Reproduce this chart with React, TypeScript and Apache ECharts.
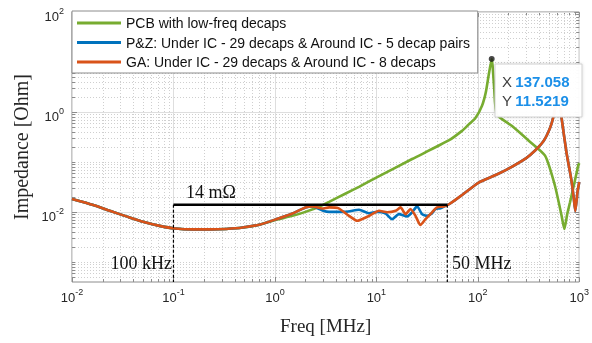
import React, { useEffect, useRef } from "react";
import * as echarts from "echarts";

// ---------- data ----------
// shared low-frequency part (all three curves overlap)
const lowFreq = [0.01, 0.0162, 0.0236, 0.0344, 0.0501, 0.0731, 0.104, 0.156, 0.227, 0.331, 0.482, 0.703];
const lowZ = [0.0182, 0.0138, 0.0106, 0.0082, 0.0064, 0.0053, 0.0047, 0.0045, 0.0045, 0.0046, 0.0049, 0.0056];

// PCB with low-freq decaps (green)
const pcbFreq = [1.03, 1.49, 2.0, 2.73, 3.42, 4.99, 6.75, 10.2, 22.5, 51.6, 69.8, 81, 94.4, 110, 120, 128, 137.058, 145, 154, 216, 316, 460, 575, 670, 713, 760, 811, 900, 977, 1000];
const pcbZ = [0.007, 0.0084, 0.0101, 0.0128, 0.016, 0.0235, 0.032, 0.05, 0.115, 0.27, 0.42, 0.56, 0.75, 1.34, 2.5, 5.5, 11.5219, 3.0, 0.9, 0.53, 0.27, 0.134, 0.034, 0.0084, 0.0046, 0.009, 0.0157, 0.04, 0.085, 0.095];

// P&Z (blue), 1 - 52.5 MHz
const pzFreq = [1.03, 1.49, 2.0, 2.35, 2.6, 2.94, 3.42, 4.99, 6.75, 8.45, 10.2, 12.3, 14.3, 16.7, 20.1, 22.5, 25.2, 28.2, 31.6, 35.4, 38.2, 42.9, 48.0, 52.5];
const pzZ = [0.0072, 0.0094, 0.0124, 0.013, 0.012, 0.0108, 0.0101, 0.0101, 0.0111, 0.0095, 0.0101, 0.0094, 0.0072, 0.0091, 0.0082, 0.0099, 0.013, 0.0091, 0.0084, 0.0095, 0.0115, 0.0119, 0.0134, 0.0145];

// GA (orange), 1 - 52.5 MHz
const gaFreq = [1.03, 1.49, 2.0, 2.35, 2.94, 3.42, 4.2, 5.38, 6.49, 7.85, 9.12, 10.6, 12.8, 15.5, 17.3, 19.4, 21.7, 24.3, 27.2, 30.5, 35.4, 39.6, 46.1, 52.5];
const gaZ = [0.0072, 0.0094, 0.0124, 0.013, 0.0118, 0.0124, 0.012, 0.0084, 0.0067, 0.0078, 0.0091, 0.0106, 0.0099, 0.0106, 0.0124, 0.0091, 0.0115, 0.0084, 0.0055, 0.0072, 0.0099, 0.0124, 0.013, 0.0145];

// shared high-frequency part of P&Z and GA
const hfFreq = [70, 102, 150, 201, 300, 367, 443, 496, 535, 569, 600, 630, 670, 750, 834, 880, 914, 960, 1000];
const hfZ = [0.022, 0.039, 0.055, 0.074, 0.12, 0.17, 0.26, 0.4, 0.6, 1.0, 1.8, 2.4, 0.75, 0.15, 0.045, 0.02, 0.0105, 0.025, 0.04];

// annotation
const targetZ = 0.014; // 14 mOhm
const bandStart = 0.1; // 100 kHz
const bandEnd = 50; // 50 MHz
const tipFreq = 137.058;
const tipZ = 11.5219;

const names = [
  "PCB with low-freq decaps",
  "P&Z: Under IC - 29 decaps & Around IC - 5 decap pairs",
  "GA: Under IC - 29 decaps & Around IC - 8 decaps",
];
const colors = ["#77AC30", "#0072BD", "#D95319"];

// axes
const xMin = 0.01;
const xMax = 1000;
const yMin = 0.0004;
const yMax = 100;
const xDecades = [0.01, 0.1, 1, 10, 100, 1000];
const yDecades = [0.0001, 0.001, 0.01, 0.1, 1, 10, 100];
const yLabelDecades = [0.01, 1, 100];
const minorMult = [2, 3, 4, 5, 6, 7, 8, 9];

const SANS = "'Liberation Sans', Arial, sans-serif";
const SERIF = "'Liberation Serif', 'Times New Roman', serif";
const AXIS = "#8c8c8c";
const TXT = "#262626";

function zip(f: number[], z: number[]) {
  return f.map((v, i) => [v, z[i]]);
}

function buildGrid() {
  const xs: number[][] = [];
  xDecades.forEach((d) => xs.push([d, 1, 1]));
  xDecades.forEach((d) =>
    minorMult.forEach((m) => {
      const v = d * m;
      if (v > xMin && v < xMax) xs.push([v, 1, 0]);
    })
  );
  const ys: number[][] = [];
  yDecades.forEach((d) => {
    if (d >= yMin && d <= yMax) ys.push([1, d, yLabelDecades.includes(d) ? 1 : 0]);
    minorMult.forEach((m) => {
      const v = d * m;
      if (v > yMin && v < yMax) ys.push([1, v, 0]);
    });
  });
  return { xs, ys };
}

function expOf(v: number) {
  return Math.round(Math.log10(v));
}

export default function App() {
  const ref = useRef<HTMLDivElement>(null);
  useEffect(() => {
    if (!ref.current) return;
    const chart = echarts.init(ref.current, undefined, { renderer: "svg" });
    const { xs, ys } = buildGrid();

    const pcbData = zip(lowFreq, lowZ).concat(zip(pcbFreq, pcbZ));
    const pzData = zip(lowFreq, lowZ).concat(zip(pzFreq, pzZ), zip(hfFreq, hfZ));
    const gaData = zip(lowFreq, lowZ).concat(zip(gaFreq, gaZ), zip(hfFreq, hfZ));

    const rich = {
      b: { fontSize: 13, fontFamily: SANS, color: TXT, lineHeight: 20 },
      s: { fontSize: 9, fontFamily: SANS, color: TXT, lineHeight: 8, verticalAlign: "top" },
    };
    const richZr = {
      b: { fontSize: 13, fontFamily: SANS, fill: TXT, lineHeight: 20 },
      s: { fontSize: 9, fontFamily: SANS, fill: TXT, lineHeight: 8, verticalAlign: "top" },
    };

    const gridLine = (major: boolean) => ({
      stroke: major ? "#dedede" : "#cfcfcf",
      lineWidth: 1,
      lineDash: major ? null : [1, 2],
    });

    const lineCommon = { showSymbol: false, smooth: 0.2 };

    const option: any = {
      animation: false,
      grid: { left: 72, top: 12, width: 509, height: 270, show: true, borderColor: AXIS, borderWidth: 1, backgroundColor: "transparent" },
      xAxis: {
        type: "log",
        logBase: 10,
        min: xMin,
        max: xMax,
        interval: 1,
        axisLine: { show: false },
        axisTick: { show: false },
        splitLine: { show: false },
        axisLabel: {
          margin: 5,
          formatter: (v: number) => `{b|10}{s|${expOf(v)}}`,
          rich,
        },
        name: "Freq [MHz]",
        nameLocation: "middle",
        nameGap: 34,
        nameTextStyle: { fontFamily: SERIF, fontSize: 19, color: TXT },
      },
      yAxis: {
        type: "log",
        logBase: 10,
        min: yMin,
        max: yMax,
        axisLine: { show: false },
        axisTick: { show: false },
        splitLine: { show: false },
        axisLabel: { show: false },
        name: "Impedance [Ohm]",
        nameLocation: "middle",
        nameGap: 41,
        nameTextStyle: { fontFamily: SERIF, fontSize: 20, color: TXT },
      },
      legend: {
        data: names,
        orient: "vertical",
        left: 72,
        top: 11,
        itemWidth: 44,
        itemHeight: 3,
        itemGap: 5.5,
        icon: "rect",
        padding: [5, 7, 4, 5],
        backgroundColor: "#fff",
        borderColor: AXIS,
        borderWidth: 1,
        selectedMode: false,
        textStyle: { fontSize: 14, fontFamily: SANS, color: "#111" },
      },
      series: [
        {
          type: "custom",
          z: 1,
          silent: true,
          clip: false,
          data: xs,
          encode: { x: 0, y: 1 },
          renderItem: (params: any, api: any) => {
            const cs = params.coordSys;
            const p = api.coord([api.value(0), 1]);
            const px = Math.round(p[0]) + 0.5;
            const major = api.value(2) === 1;
            const top = cs.y;
            const bottom = cs.y + cs.height;
            const tl = major ? 5 : 3;
            return {
              type: "group",
              children: [
                { type: "line", shape: { x1: px, y1: top, x2: px, y2: bottom }, style: gridLine(major) },
                { type: "line", shape: { x1: px, y1: bottom, x2: px, y2: bottom - tl }, style: { stroke: AXIS, lineWidth: 1 } },
                { type: "line", shape: { x1: px, y1: top, x2: px, y2: top + tl }, style: { stroke: AXIS, lineWidth: 1 } },
              ],
            };
          },
        },
        {
          type: "custom",
          z: 1,
          silent: true,
          clip: false,
          data: ys,
          encode: { x: 0, y: 1 },
          renderItem: (params: any, api: any) => {
            const cs = params.coordSys;
            const v = api.value(1);
            const p = api.coord([1, v]);
            const py = Math.round(p[1]) + 0.5;
            const major = api.value(2) === 1;
            const left = cs.x;
            const right = cs.x + cs.width;
            const tl = major ? 5 : 3;
            const children: any[] = [
              { type: "line", shape: { x1: left, y1: py, x2: right, y2: py }, style: gridLine(major) },
              { type: "line", shape: { x1: left, y1: py, x2: left + tl, y2: py }, style: { stroke: AXIS, lineWidth: 1 } },
              { type: "line", shape: { x1: right, y1: py, x2: right - tl, y2: py }, style: { stroke: AXIS, lineWidth: 1 } },
            ];
            if (major) {
              children.push({
                type: "text",
                x: left - 8,
                y: py + 3.5,
                style: { text: `{b|10}{s|${expOf(v)}}`, rich: richZr, align: "right", verticalAlign: "middle" },
              });
            }
            return { type: "group", children };
          },
        },
        {
          name: names[0],
          type: "line",
          data: pcbData,
          color: colors[0],
          ...lineCommon,
          lineStyle: { width: 2.6, color: colors[0] },
          z: 3,
        },
        {
          name: names[1],
          type: "line",
          data: pzData,
          color: colors[1],
          ...lineCommon,
          lineStyle: { width: 2.6, color: colors[1] },
          z: 4,
        },
        {
          name: names[2],
          type: "line",
          data: gaData,
          color: colors[2],
          ...lineCommon,
          lineStyle: { width: 2.6, color: colors[2] },
          z: 5,
        },
        {
          type: "line",
          data: [[bandStart, targetZ], [bandEnd, targetZ]],
          showSymbol: false,
          lineStyle: { width: 2.5, color: "#000" },
          z: 6,
          silent: true,
        },
        {
          type: "line",
          data: [[bandStart, targetZ], [bandStart, yMin]],
          showSymbol: false,
          lineStyle: { width: 1.2, color: "#000", type: [3, 2] },
          z: 6,
          silent: true,
        },
        {
          type: "line",
          data: [[bandEnd, targetZ], [bandEnd, yMin]],
          showSymbol: false,
          lineStyle: { width: 1.2, color: "#000", type: [3, 2] },
          z: 6,
          silent: true,
        },
        {
          type: "scatter",
          data: [[tipFreq, tipZ]],
          symbolSize: 6,
          itemStyle: { color: "#1a1a1a" },
          z: 7,
          silent: true,
        },
      ],
      graphic: [
        { type: "text", x: 186, y: 192, style: { text: "14 mΩ", font: `18px ${SERIF}`, fill: "#111", verticalAlign: "middle" }, z: 50 },
        { type: "text", x: 172, y: 263, style: { text: "100 kHz", font: `18px ${SERIF}`, fill: "#111", align: "right", verticalAlign: "middle" }, z: 50 },
        { type: "text", x: 452, y: 263, style: { text: "50 MHz", font: `18px ${SERIF}`, fill: "#111", verticalAlign: "middle" }, z: 50 },
        {
          type: "rect",
          shape: { x: 495, y: 64, width: 87, height: 53 },
          style: { fill: "rgba(255,255,255,0.97)", stroke: "#d0d0d0", lineWidth: 1, shadowBlur: 3, shadowColor: "rgba(0,0,0,0.15)" },
          z: 100,
        },
        {
          type: "text",
          x: 502,
          y: 72,
          style: {
            text: `{k|X} {v|${tipFreq}}\n{k|Y} {v|${tipZ}}`,
            rich: {
              k: { fontSize: 15, fontFamily: SANS, fill: "#404040", lineHeight: 19 },
              v: { fontSize: 15, fontFamily: SANS, fontWeight: "bold", fill: "#1b8fe8", lineHeight: 19 },
            },
          },
          z: 101,
        },
      ],
    };
    chart.setOption(option);
    return () => chart.dispose();
  }, []);
  return <div ref={ref} style={{ position: "fixed", left: 0, top: 0, width: 592, height: 343 }} />;
}
